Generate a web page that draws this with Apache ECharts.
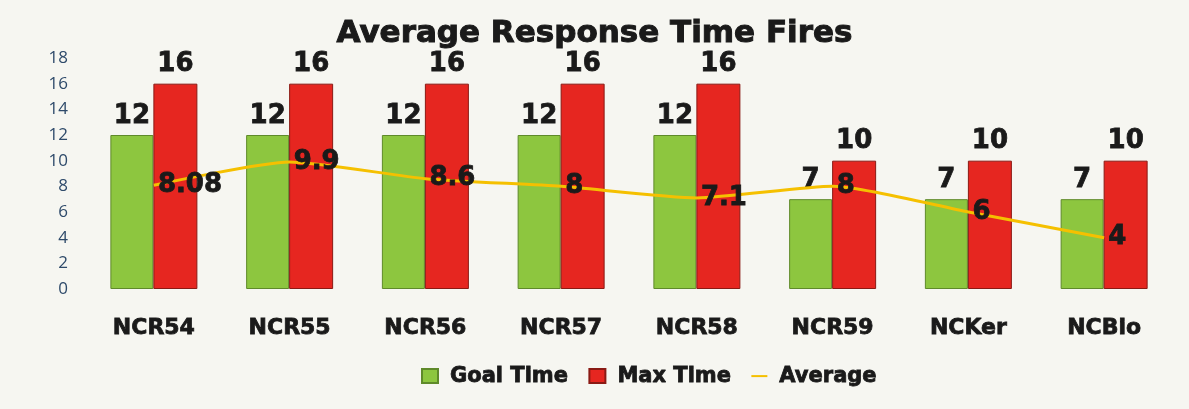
<!DOCTYPE html>
<html><head><meta charset="utf-8">
<script src="https://cdn.jsdelivr.net/npm/echarts@6/dist/echarts.min.js"></script>
<style>html,body{margin:0;padding:0;background:#f6f6f1;}#c{width:1189px;height:409px;}</style>
</head><body><div id="c"></div>
<script>
const categories = ['NCR54','NCR55','NCR56','NCR57','NCR58','NCR59','NCKer','NCBio'];
const goalTime = [12,12,12,12,12,7,7,7];
const maxTime = [16,16,16,16,16,10,10,10];
const average = [8.08,9.9,8.6,8,7.1,8,6,4];
const yTicks = [0,2,4,6,8,10,12,14,16,18];

const bold = '"DejaVu Sans", "Open Sans", sans-serif';
const font = '"Open Sans", "Noto Sans", sans-serif';
const ink = '#1a1a1a';
const heavy = { fontFamily: bold, fontWeight: 'bold', color: ink, textBorderColor: ink, textBorderWidth: 0.8 };
const chart = echarts.init(document.getElementById('c'));
chart.setOption({
  backgroundColor: '#f6f6f1',
  animation: false,
  title: {
    text: 'Average Response Time Fires', left: 'center', top: 13,
    textStyle: Object.assign({}, heavy, { fontSize: 31, textBorderWidth: 1 })
  },
  legend: {
    bottom: 17, left: 416, itemGap: 20, itemWidth: 16, itemHeight: 14,
    textStyle: Object.assign({}, heavy, { fontSize: 21, padding: [0, 0, 0, 7] }),
    data: [
      { name: 'Goal Time', icon: 'rect' },
      { name: 'Max Time', icon: 'rect' },
      { name: 'Average', icon: 'path://M0,0 L16,0 L16,2 L0,2 Z', itemStyle: { color: '#f5c000', opacity: 1 } }
    ]
  },
  grid: { left: 86, right: 17, top: 58, bottom: 120 },
  xAxis: {
    type: 'category', data: categories,
    axisLine: { show: false }, axisTick: { show: false },
    axisLabel: Object.assign({ margin: 28, fontSize: 22 }, heavy)
  },
  yAxis: {
    type: 'value', min: 0, max: 18, interval: 2,
    splitLine: { show: false }, axisLine: { show: false }, axisTick: { show: false },
    axisLabel: { margin: 18, fontFamily: font, fontSize: 17, color: '#2e4a6a',
      formatter: v => yTicks.includes(v) ? String(v) : '' }
  },
  series: [
    {
      name: 'Goal Time', type: 'bar', data: goalTime, barWidth: 43, barGap: '0%',
      itemStyle: { color: '#8dc63f', borderColor: '#5f8a2a', borderWidth: 1 },
      label: Object.assign({ show: true, position: 'top', distance: 6, fontSize: 26 }, heavy)
    },
    {
      name: 'Max Time', type: 'bar', data: maxTime, barWidth: 44,
      itemStyle: { color: '#e62620', borderColor: '#8a1a14', borderWidth: 1 },
      label: Object.assign({ show: true, position: 'top', distance: 6, fontSize: 26 }, heavy)
    },
    {
      name: 'Average', type: 'line', data: average, smooth: 0.2,
      symbol: 'circle', symbolSize: 2, showSymbol: true,
      lineStyle: { color: '#f5c000', width: 3 }, itemStyle: { color: 'rgba(245,192,0,0)' },
      label: Object.assign({ show: true, position: 'right', distance: 3, offset: [0, 3], fontSize: 26 }, heavy),
      labelLayout: { hideOverlap: false },
      z: 5
    }
  ]
});
</script></body></html>
